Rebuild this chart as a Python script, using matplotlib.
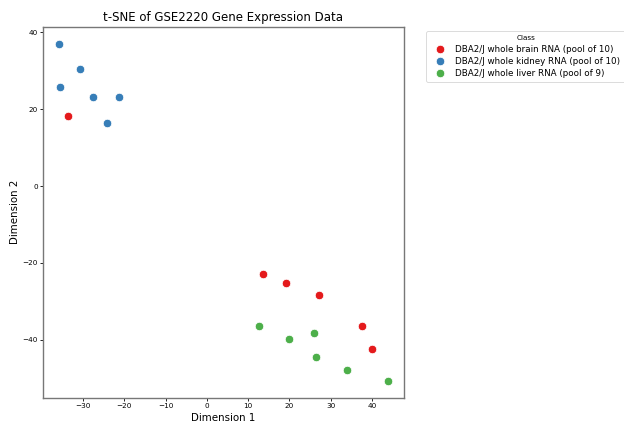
import matplotlib
matplotlib.use("Agg")
import matplotlib.pyplot as plt

# t-SNE embedding coordinates per sample class
classes = [
    "DBA2/J whole brain RNA (pool of 10)",
    "DBA2/J whole kidney RNA (pool of 10)",
    "DBA2/J whole liver RNA (pool of 9)",
]
colors = ["#e41a1c", "#377eb8", "#4daf4a"]

brain_x = [13.7, 19.2, 27.3, 37.5, 40.1, -33.7]
brain_y = [-23.0, -25.3, -28.3, -36.3, -42.5, 18.2]

kidney_x = [-35.8, -30.8, -35.5, -27.7, -21.3, -24.2]
kidney_y = [37.1, 30.5, 25.7, 23.2, 23.2, 16.4]

liver_x = [12.7, 20.0, 26.0, 26.4, 34.0, 43.8]
liver_y = [-36.3, -39.9, -38.3, -44.6, -47.9, -50.7]

series = [(brain_x, brain_y), (kidney_x, kidney_y), (liver_x, liver_y)]

fig = plt.figure(figsize=(6.24, 4.24), dpi=100)
ax = fig.add_axes([0.0684, 0.062, 0.579, 0.875])

for (xs, ys), label, c in zip(series, classes, colors):
    ax.scatter(xs, ys, s=38, color=c, edgecolors="white", linewidths=0.6,
               label=label, zorder=3)

ax.set_title("t-SNE of GSE2220 Gene Expression Data", fontsize=8.5, pad=4)
ax.set_xlabel("Dimension 1", fontsize=7.4, labelpad=3)
ax.set_ylabel("Dimension 2", fontsize=7.4, labelpad=2)
ax.tick_params(labelsize=5.2, length=2, width=0.6, pad=1.5)
for sp in ax.spines.values():
    sp.set_color("#777777")
    sp.set_linewidth(1.0)

leg = ax.legend(title="Class", bbox_to_anchor=(1.05, 1), loc="upper left",
                fontsize=6.3, title_fontsize=5.2, markerscale=1.0,
                handletextpad=0.8, borderpad=0.5, labelspacing=0.35)
leg.get_frame().set_linewidth(0.6)

fig.savefig("out.png", dpi=100)
